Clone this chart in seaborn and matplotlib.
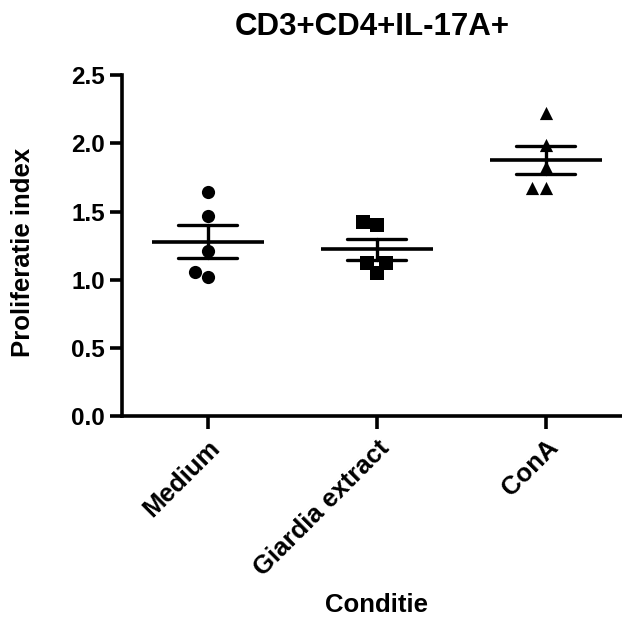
import pandas as pd
import matplotlib
matplotlib.use("Agg")
import matplotlib.pyplot as plt
import seaborn as sns

# values
conditions = ["Medium", "Giardia extract", "ConA"]
medium = [1.64, 1.47, 1.21, 1.02, 1.06]
giardia = [1.42, 1.40, 1.12, 1.12, 1.05]
cona = [2.22, 1.99, 1.83, 1.67, 1.67]
markers = ["o", "s", "^"]
yticks = [0.0, 0.5, 1.0, 1.5, 2.0, 2.5]


def build_frame():
    """Long-form table for seaborn."""
    rows = []
    for cond, vals in zip(conditions, [medium, giardia, cona]):
        for v in vals:
            rows.append({"Conditie": cond, "value": v})
    return pd.DataFrame(rows)


def plot_scatter(df, save_path):
    fig = plt.figure(figsize=(6.22, 6.21), dpi=100)
    ax = fig.add_axes([0.196, 0.330, 0.804, 0.549])

    # individual points, one marker per condition
    for cond, m in zip(conditions, markers):
        sub = df[df["Conditie"] == cond]
        sns.swarmplot(data=sub, x="Conditie", y="value", order=conditions,
                      marker=m, color="black", size=9.5, ax=ax, zorder=3)

    # mean with SEM
    sns.pointplot(data=df, x="Conditie", y="value", order=conditions,
                  errorbar="se", capsize=0.35, linestyle="none",
                  marker="_", markersize=81, markeredgewidth=2.6,
                  color="black", err_kws={"linewidth": 2.4}, ax=ax, zorder=4)

    ax.set_ylim(0, 2.5)
    ax.set_xlim(-0.507, 2.45)
    ax.set_yticks(yticks)
    ax.set_yticklabels([f"{t:.1f}" for t in yticks], fontsize=17.5, fontweight="bold")
    ax.set_xticks(range(len(conditions)))
    ax.set_xticklabels(conditions, fontsize=18.5, fontweight="bold",
                       rotation=45, ha="right", rotation_mode="anchor")

    for side in ["top", "right"]:
        ax.spines[side].set_visible(False)
    for side in ["left", "bottom"]:
        ax.spines[side].set_linewidth(2.6)
    ax.tick_params(axis="both", length=9, width=2.6, pad=3)
    ax.tick_params(axis="x", pad=5)

    ax.set_xlabel("Conditie", fontsize=18.5, fontweight="bold")
    ax.xaxis.set_label_coords(0.51, -0.52)
    ax.set_ylabel("Proliferatie index", fontsize=18.5, fontweight="bold")
    ax.yaxis.set_label_coords(-0.174, 0.48)
    ax.set_title("CD3+CD4+IL-17A+", fontsize=22.5, fontweight="bold", pad=29)

    fig.savefig(save_path, dpi=100)


def main():
    sns.set_theme(style="ticks")
    plt.rcParams["font.family"] = ["Liberation Sans", "DejaVu Sans"]
    for key in ["text.color", "axes.labelcolor", "axes.edgecolor",
                "xtick.color", "ytick.color"]:
        plt.rcParams[key] = "black"
    df = build_frame()
    plot_scatter(df, "out.png")


if __name__ == "__main__":
    main()
